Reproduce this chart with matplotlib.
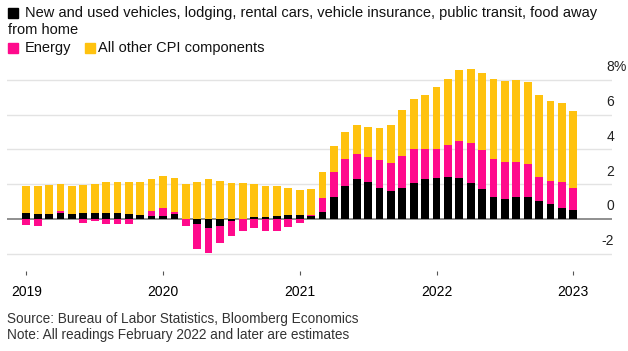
import numpy as np
import matplotlib
matplotlib.use("Agg")
import matplotlib.pyplot as plt
from matplotlib.patches import Rectangle

plt.rcParams['font.family'] = ['Liberation Sans', 'DejaVu Sans']

# contributions to CPI, percentage points, Jan 2019 - Jan 2023 (monthly)
vehicles = [0.35, 0.31, 0.31, 0.35, 0.29, 0.35, 0.35, 0.35, 0.35, 0.29, 0.21, 0.19,
            0.19, 0.27, 0.02, -0.29, -0.54, -0.40, -0.13, 0.02, 0.12, 0.10, 0.15, 0.23,
            0.25, 0.17, 0.38, 1.29, 1.87, 2.29, 2.10, 1.81, 1.63, 1.81, 2.04, 2.29,
            2.33, 2.44, 2.38, 2.04, 1.75, 1.29, 1.17, 1.29, 1.29, 1.06, 0.87, 0.65,
            0.52]
energy = [-0.37, -0.38, 0.00, 0.13, 0.00, -0.21, -0.10, -0.31, -0.31, -0.31, 0.03, 0.25,
          0.43, 0.12, -0.38, -1.42, -1.42, -0.98, -0.87, -0.67, -0.54, -0.67, -0.67, -0.44,
          -0.23, 0.08, 0.81, 1.42, 1.59, 1.46, 1.44, 1.56, 1.56, 1.82, 2.00, 1.75,
          1.71, 1.83, 2.12, 2.34, 2.23, 2.13, 2.08, 1.96, 1.88, 1.38, 1.34, 1.48,
          1.29]
other = [1.55, 1.59, 1.65, 1.54, 1.61, 1.61, 1.67, 1.77, 1.77, 1.83, 1.88, 1.85,
         1.86, 1.98, 2.00, 2.13, 2.29, 2.19, 2.06, 2.04, 1.88, 1.78, 1.73, 1.54,
         1.42, 1.48, 1.50, 1.50, 1.56, 1.67, 1.77, 1.88, 2.23, 2.66, 2.86, 3.11,
         3.56, 3.79, 4.06, 4.24, 4.40, 4.60, 4.67, 4.73, 4.71, 4.71, 4.58, 4.54,
         4.40]
years = ['2019', '2020', '2021', '2022', '2023']
yticks = [-2, 0, 2, 4, 6, 8]

BLACK = '#000000'
PINK = '#ff0a8c'
GOLD = '#ffc20e'

W, H = 628, 351
fig = plt.figure(figsize=(W / 100, H / 100), dpi=100)
ax = fig.add_axes([7 / W, 1 - 262 / H, 605 / W, 200 / H])

x = np.arange(len(vehicles))
series = [(np.array(vehicles), BLACK), (np.array(energy), PINK), (np.array(other), GOLD)]
pos_base = np.zeros(len(x))
neg_base = np.zeros(len(x))
for vals, col in series:
    pos = np.where(vals > 0, vals, 0)
    neg = np.where(vals < 0, vals, 0)
    ax.bar(x, pos, bottom=pos_base, width=0.68, color=col, linewidth=0, zorder=3)
    ax.bar(x, neg, bottom=neg_base, width=0.68, color=col, linewidth=0, zorder=3)
    pos_base += pos
    neg_base += neg

for v in yticks:
    if v == 0:
        ax.axhline(v, color='#8f8f8f', lw=1.4, zorder=2)
    else:
        ax.axhline(v, color='#e3e3e3', lw=1.0, zorder=1)
    lab = str(v)
    ax.text(1.0033, v + 0.72, lab, transform=ax.get_yaxis_transform(),
            ha='right', va='center', fontsize=10, color='#222222')
    if v == 8:
        ax.text(1.0033, v + 0.72, '%', transform=ax.get_yaxis_transform(),
                ha='left', va='center', fontsize=10, color='#222222')

ax.set_xlim(-1.69, 51.4)
ax.set_ylim(-2.47, 9.02)
ax.set_yticks([])
ax.set_xticks(np.arange(0, len(x), 12))
ax.set_xticklabels(years, fontsize=10, color='#222222')
for s in ['left', 'right', 'top']:
    ax.spines[s].set_visible(False)
ax.spines['bottom'].set_position(('outward', 6.5))
ax.spines['bottom'].set_visible(False)
ax.tick_params(axis='x', length=3, width=0.8, color='#555555', pad=7)
ax.set_facecolor('none')


def px(xp, yp):
    return xp / W, 1 - yp / H


def square(xp, yp, col):
    fx, fy = px(xp, yp + 10)
    fig.patches.append(Rectangle((fx, fy), 10 / W, 10 / H, transform=fig.transFigure,
                                 color=col, figure=fig))


square(8, 8, BLACK)
fig.text(*px(25, 13), 'New and used vehicles, lodging, rental cars, vehicle insurance, public transit, food away',
         fontsize=10.5, va='center', color='#111111')
fig.text(*px(8, 30.5), 'from home', fontsize=10.5, va='center', color='#111111')
square(8, 43, PINK)
fig.text(*px(25, 48), 'Energy', fontsize=10.5, va='center', color='#111111')
square(85, 43, GOLD)
fig.text(*px(98, 48), 'All other CPI components', fontsize=10.5, va='center', color='#111111')

fig.text(*px(7, 319), 'Source: Bureau of Labor Statistics, Bloomberg Economics',
         fontsize=9.8, va='center', color='#333333')
fig.text(*px(7, 335), 'Note: All readings February 2022 and later are estimates',
         fontsize=9.8, va='center', color='#333333')

fig.savefig('out.png', dpi=100, facecolor='white')
